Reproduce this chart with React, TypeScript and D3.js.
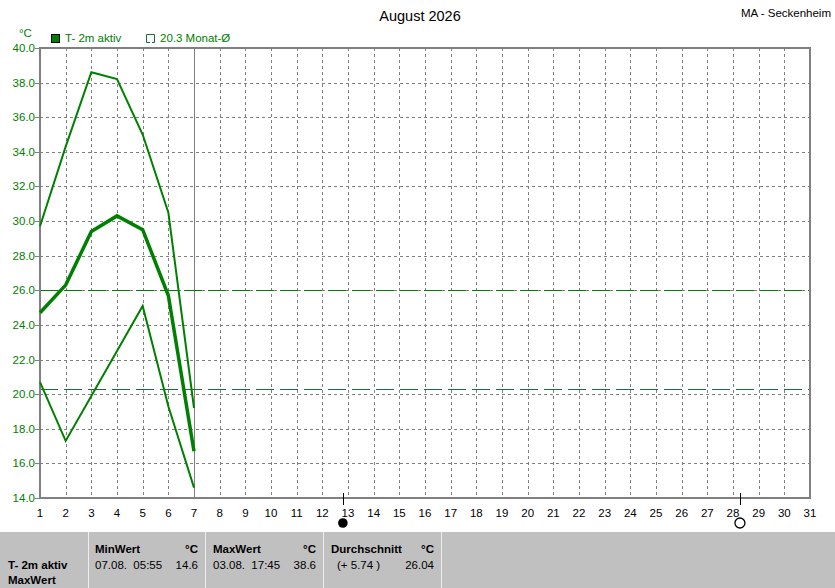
import React from "react";
import * as d3 from "d3";

const days = d3.range(1, 32);
const dataDays = [1, 2, 3, 4, 5, 6, 7];
const maxValues = [29.7, 34.3, 38.6, 38.2, 35.0, 30.5, 19.2];
const meanValues = [24.7, 26.3, 29.4, 30.3, 29.5, 25.7, 16.7];
const minValues = [20.7, 17.3, 19.9, 22.5, 25.1, 19.3, 14.6];
const yTicks = [14, 16, 18, 20, 22, 24, 26, 28, 30, 32, 34, 36, 38, 40];
const refMean = 26.0;
const refMonth = 20.3;
const currentDay = 7;
const fullMoonDay = 12.8;
const newMoonDay = 28.27;

const W = 835;
const H = 588;
const left = 40;
const right = 810;
const top = 48;
const bottom = 498;
const green = "#008000";
const darkGreen = "#1d6a3e";
const grey = "#808080";
const font = "'Liberation Sans', Arial, sans-serif";

export default function App() {
  const x = d3.scaleLinear().domain([1, 31]).range([left, right]);
  const y = d3.scaleLinear().domain([14, 40]).range([bottom, top]);
  const line = d3
    .line<number>()
    .x((_, i) => x(dataDays[i]))
    .y((v) => y(v));

  return (
    <svg
      width={W}
      height={H}
      style={{ position: "absolute", left: 0, top: 0, fontFamily: font }}
    >
      <rect x={0} y={0} width={W} height={H} fill="#fff" />
      {/* title */}
      <text x={420} y={21} textAnchor="middle" fontSize={14.5} fill="#000">
        August 2026
      </text>
      <text x={831} y={17} textAnchor="end" fontSize={11.5} fill="#000">
        MA - Seckenheim
      </text>
      {/* legend */}
      <text x={19} y={37} fontSize={11.5} fill={green}>
        °C
      </text>
      <rect x={51.5} y={34.5} width={8} height={8} fill={green} stroke="#000" strokeWidth={1} />
      <text x={65} y={42} fontSize={11.5} fill={green}>
        T- 2m aktiv
      </text>
      <path d="M150,42.5 H146.5 V34.5 H154.5 V42.5 H152" fill="none" stroke={darkGreen} strokeWidth={1} />
      <text x={160} y={42} fontSize={11.5} fill={green}>
        20.3 Monat-Ø
      </text>

      {/* grid */}
      {days.slice(1, 30).map((d) => (
        <line
          key={"gx" + d}
          x1={Math.round(x(d)) + 0.5}
          x2={Math.round(x(d)) + 0.5}
          y1={top}
          y2={bottom}
          stroke={grey}
          strokeDasharray="3,3"
        />
      ))}
      {yTicks.slice(1, -1).map((t) => (
        <line
          key={"gy" + t}
          x1={left}
          x2={right}
          y1={Math.round(y(t)) + 0.5}
          y2={Math.round(y(t)) + 0.5}
          stroke={grey}
          strokeDasharray="3,3"
        />
      ))}
      {/* current day marker */}
      <line
        x1={Math.round(x(currentDay)) + 0.5}
        x2={Math.round(x(currentDay)) + 0.5}
        y1={top}
        y2={bottom}
        stroke={grey}
        strokeWidth={1}
      />
      {/* reference lines */}
      <line x1={left} x2={right} y1={Math.round(y(refMean)) + 0.5} y2={Math.round(y(refMean)) + 0.5} stroke={green} strokeDasharray="18,6" />
      <line x1={left} x2={right} y1={Math.round(y(refMonth)) + 0.5} y2={Math.round(y(refMonth)) + 0.5} stroke={darkGreen} strokeDasharray="18,6" />

      {/* frame */}
      <rect x={left} y={top} width={right - left} height={bottom - top} fill="none" stroke={grey} strokeWidth={2} />

      {/* y ticks */}
      {yTicks.map((t) => (
        <g key={"yt" + t}>
          <line x1={35} x2={left} y1={Math.round(y(t)) + 0.5} y2={Math.round(y(t)) + 0.5} stroke={grey} />
          <text x={35} y={y(t) + 4} textAnchor="end" fontSize={11.5} fill={green}>
            {t.toFixed(1)}
          </text>
        </g>
      ))}
      {/* x ticks */}
      {days.map((d) => (
        <text key={"xt" + d} x={x(d)} y={517} textAnchor="middle" fontSize={11.5} fill="#000">
          {d}
        </text>
      ))}

      {/* moon phases */}
      <line x1={Math.round(x(fullMoonDay)) + 0.5} x2={Math.round(x(fullMoonDay)) + 0.5} y1={493} y2={505} stroke="#000" />
      <circle cx={x(fullMoonDay)} cy={523} r={4.8} fill="#000" />
      <line x1={Math.round(x(newMoonDay)) + 0.5} x2={Math.round(x(newMoonDay)) + 0.5} y1={493} y2={505} stroke="#000" />
      <circle cx={x(newMoonDay)} cy={523} r={5} fill="#fff" stroke="#000" strokeWidth={1.3} />

      {/* series */}
      <path d={line(maxValues) || ""} fill="none" stroke={green} strokeWidth={2} />
      <path d={line(minValues) || ""} fill="none" stroke={green} strokeWidth={2} />
      <path d={line(meanValues) || ""} fill="none" stroke={green} strokeWidth={3.5} />

      {/* table */}
      <rect x={0} y={532} width={W} height={H - 532} fill="#c0c0c0" />
      {[88, 205, 323, 441].map((sx) => (
        <line key={"sep" + sx} x1={sx + 0.5} x2={sx + 0.5} y1={532} y2={H} stroke="#eeeeee" strokeWidth={1} />
      ))}
      <g fontSize={11.5} fill="#000" style={{ whiteSpace: "pre" }}>
        <text x={8} y={569} fontWeight="bold">T- 2m aktiv</text>
        <text x={8} y={584} fontWeight="bold">MaxWert</text>

        <text x={95} y={553} fontWeight="bold">MinWert</text>
        <text x={198} y={553} fontWeight="bold" textAnchor="end">°C</text>
        <text x={95} y={569} style={{ whiteSpace: "pre" }}>{"07.08.  05:55"}</text>
        <text x={198} y={569} textAnchor="end">14.6</text>

        <text x={213} y={553} fontWeight="bold">MaxWert</text>
        <text x={316} y={553} fontWeight="bold" textAnchor="end">°C</text>
        <text x={213} y={569} style={{ whiteSpace: "pre" }}>{"03.08.  17:45"}</text>
        <text x={316} y={569} textAnchor="end">38.6</text>

        <text x={331} y={553} fontWeight="bold">Durchschnitt</text>
        <text x={434} y={553} fontWeight="bold" textAnchor="end">°C</text>
        <text x={337} y={569} style={{ whiteSpace: "pre" }}>{"(+ 5.74 )"}</text>
        <text x={434} y={569} textAnchor="end">26.04</text>
      </g>
    </svg>
  );
}
